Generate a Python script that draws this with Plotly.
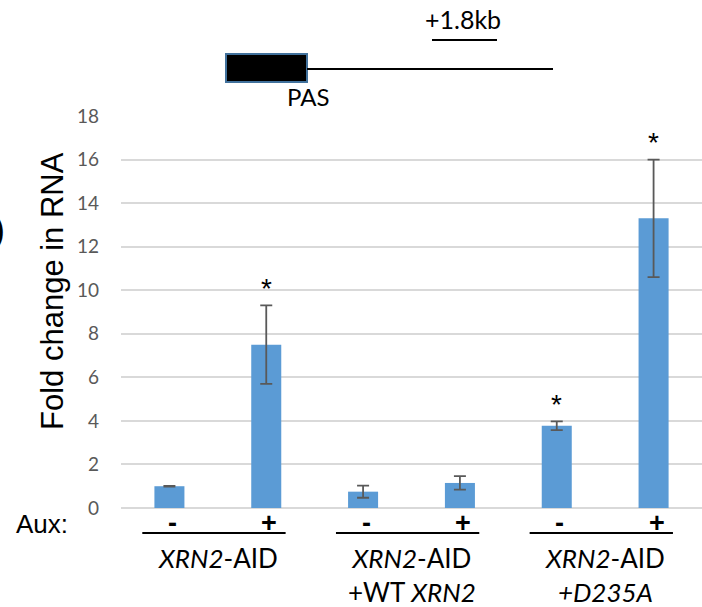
import plotly.graph_objects as go

# Fold change data: one bar per sample, paired by construct (-/+ auxin)
samples = ["A-", "A+", "W-", "W+", "D-", "D+"]
fold_change = [1.0, 7.5, 0.75, 1.15, 3.78, 13.3]
sd = [0.02, 1.8, 0.28, 0.31, 0.2, 2.7]
significant = [False, True, False, False, True, True]
aux_signs = ["-", "+", "-", "+", "-", "+"]
group_labels = ["<i>XRN2</i>-AID", "<i>XRN2</i>-AID<br>+WT <i>XRN2</i>", "<i>XRN2</i>-AID<br><i>+D235A</i>"]
y_ticks = [0, 2, 4, 6, 8, 10, 12, 14, 16, 18]

BLUE = "#5B9BD5"
GREY = "#595959"
GRID = "#D9D9D9"
CAL = "Lato, 'Open Sans', sans-serif"
ARIAL = "'Liberation Sans', Arial, sans-serif"

fig = go.Figure(go.Bar(
    x=samples, y=fold_change,
    marker=dict(color=BLUE, line=dict(width=0)),
    error_y=dict(type="data", array=sd, visible=True, color=GREY, thickness=1.8, width=6),
))

W, H = 702, 607
L, R, T, B = 121, 0, 116, 99
pw, ph = W - L - R, H - T - B

def px(X):
    return (X - L) / pw

def py(Y):
    return (H - B - Y) / ph

ann = []
shapes = []

def label(x, y, text, font, xref="paper", **kw):
    opts = dict(x=x, y=y, xref=xref, yref="paper", text=text, showarrow=False,
                xanchor="center", yanchor="middle", font=font)
    opts.update(kw)
    ann.append(opts)

# significance stars above the error bars
for s, v, e, sig in zip(samples, fold_change, sd, significant):
    if sig:
        ann.append(dict(x=s, y=v + e, xref="x", yref="y", text="*", showarrow=False,
                        xanchor="center", yanchor="middle",
                        yshift=17, font=dict(family=ARIAL, size=28, color="black")))

# auxin treatment row
label(px(42), py(524), "Aux:", dict(family=ARIAL, size=26, color="black"))
for s, sign in zip(samples, aux_signs):
    label(s, py(523), "<b>%s</b>" % sign, dict(family=ARIAL, size=27, color="black"),
          xref="x", xshift=3)

# group underlines and names
for g, lab in enumerate(group_labels):
    i0, i1 = 2 * g, 2 * g + 1
    shapes.append(dict(type="line", xref="x", yref="paper", x0=i0 - 0.28, x1=i1 + 0.2,
                       y0=py(533), y1=py(533), line=dict(color="black", width=2)))
    label(i0 + 0.5, py(540), lab, dict(family=CAL, size=26, color="black"),
          xref="x", yanchor="top", align="center")

# y-axis title
label(px(52), py(291), "Fold change in RNA", dict(family=ARIAL, size=31, color="black"),
      textangle=-90)

# clipped panel letter at the left edge
label(px(-1), py(229), ")", dict(family=ARIAL, size=36, color="black"))

# gene diagram above the chart
shapes.append(dict(type="rect", xref="paper", yref="paper", x0=px(226), x1=px(307),
                   y0=py(82), y1=py(54), fillcolor="black", line=dict(color="#41719C", width=2)))
shapes.append(dict(type="line", xref="paper", yref="paper", x0=px(307), x1=px(553),
                   y0=py(69), y1=py(69), line=dict(color="black", width=2)))
shapes.append(dict(type="line", xref="paper", yref="paper", x0=px(432), x1=px(497),
                   y0=py(40), y1=py(40), line=dict(color="black", width=2)))
label(px(308), py(97), "PAS", dict(family=CAL, size=24, color="black"))
label(px(463), py(19), "+1.8kb", dict(family=CAL, size=25, color="black"))

fig.update_layout(
    width=W, height=H,
    margin=dict(l=L, r=R, t=T, b=B, pad=0),
    paper_bgcolor="white", plot_bgcolor="white",
    bargap=0.69, showlegend=False,
    xaxis=dict(showticklabels=False, showgrid=False, zeroline=False, showline=False, ticks=""),
    yaxis=dict(range=[0, 18], tickvals=y_ticks, showgrid=True, gridcolor=GRID, gridwidth=1.6,
               zeroline=True, zerolinecolor=GRID, zerolinewidth=1.6, showline=False, ticks="",
               ticklabelstandoff=21,
               tickfont=dict(family=CAL, size=19, color=GREY)),
    annotations=ann, shapes=shapes,
)

fig.write_html("out.html")
